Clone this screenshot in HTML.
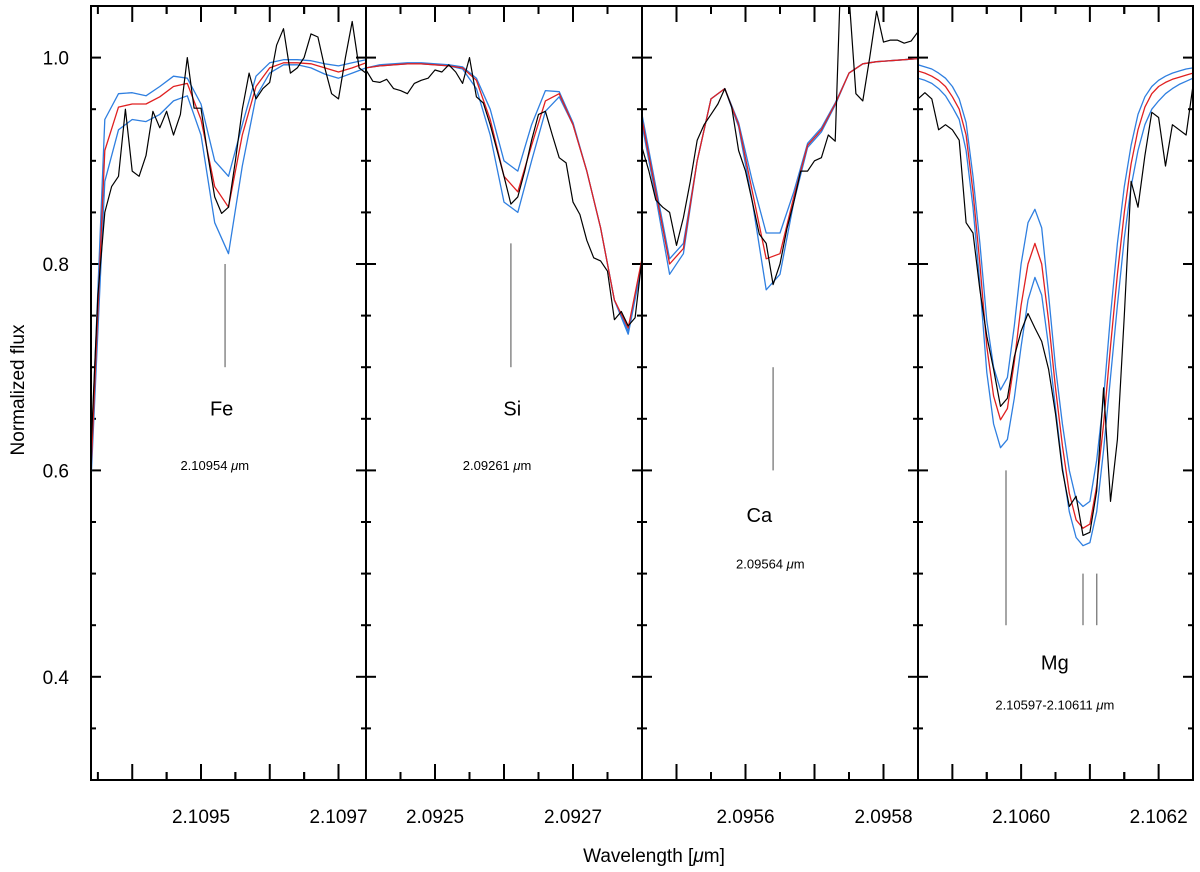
<!DOCTYPE html>
<html><head><meta charset="utf-8">
<style>
html,body{margin:0;padding:0;background:#fff;}
svg{display:block;font-family:"Liberation Sans",Arial,sans-serif;}
</style></head>
<body>
<svg id="chart" width="1200" height="872" viewBox="0 0 1200 872" xmlns="http://www.w3.org/2000/svg">
<defs></defs>
<g id="ticks"></g>
<g id="marks"></g>
<g id="frames"></g>
<g id="labels"></g>
<text x="24" y="390" font-size="19" text-anchor="middle" transform="rotate(-90 24 390)">Normalized flux</text>
<text x="654" y="862" font-size="19" text-anchor="middle">Wavelength [<tspan font-style="italic">μ</tspan>m]</text>
</svg>
<script>
// ---- data ----
const yTickValues = [0.4, 0.6, 0.8, 1.0];
const yTickLabels = ["0.4", "0.6", "0.8", "1.0"];
const panelStarts = [2.10934, 2.0924, 2.09545, 2.10585];
const panelEnds = [2.10974, 2.0928, 2.09585, 2.10625];
const panelMajorTicks = [
  [2.1094, 2.1095, 2.1096, 2.1097],
  [2.0925, 2.0926, 2.0927],
  [2.0955, 2.0956, 2.0957, 2.0958],
  [2.1059, 2.1060, 2.1061, 2.1062]
];
const panelTickLabels = [
  ["2.1095", "2.1097"], ["2.0925", "2.0927"], ["2.0956", "2.0958"], ["2.1060", "2.1062"]
];
const panelModelSteps = [2e-5, 2e-5, 2e-5, 1e-5];
const blackStep = 1e-5;

const p1Black = [0.62,0.77,0.85,0.875,0.885,0.95,0.89,0.885,0.905,0.948,0.932,0.948,0.925,0.945,1.0,0.951,0.951,0.905,0.865,0.849,0.855,0.9,0.95,0.985,0.96,0.97,0.976,1.012,1.028,0.985,0.99,1.0,1.023,1.02,0.99,0.965,0.96,1.0,1.035,0.99,0.985];
const p1Red = [0.60,0.91,0.952,0.955,0.955,0.962,0.972,0.975,0.94,0.875,0.855,0.925,0.972,0.99,0.995,0.995,0.994,0.99,0.986,0.99,0.995];
const p1BlueHi = [0.61,0.94,0.965,0.966,0.963,0.972,0.982,0.98,0.955,0.9,0.885,0.935,0.982,0.995,0.998,0.998,0.997,0.994,0.992,0.995,0.998];
const p1BlueLo = [0.59,0.88,0.93,0.94,0.938,0.945,0.958,0.963,0.925,0.84,0.81,0.895,0.962,0.985,0.993,0.993,0.99,0.984,0.98,0.985,0.99];

const p2Black = [0.988,0.977,0.976,0.979,0.97,0.968,0.965,0.975,0.978,0.98,0.988,0.986,0.993,0.986,0.975,1.0,0.962,0.956,0.935,0.91,0.885,0.858,0.865,0.89,0.92,0.945,0.948,0.925,0.903,0.898,0.86,0.848,0.823,0.806,0.803,0.793,0.746,0.754,0.74,0.748,0.805];
const p2Red = [0.99,0.992,0.993,0.994,0.994,0.993,0.992,0.99,0.978,0.94,0.885,0.87,0.915,0.958,0.965,0.935,0.89,0.835,0.765,0.738,0.805];
const p2BlueHi = [0.99,0.993,0.994,0.995,0.995,0.994,0.993,0.991,0.98,0.95,0.9,0.89,0.935,0.968,0.967,0.937,0.89,0.835,0.765,0.735,0.80];
const p2BlueLo = [0.99,0.992,0.993,0.994,0.994,0.993,0.992,0.989,0.97,0.925,0.86,0.85,0.9,0.948,0.962,0.935,0.89,0.835,0.765,0.732,0.8];

const p3Black = [0.913,0.89,0.862,0.855,0.85,0.818,0.845,0.88,0.92,0.935,0.945,0.955,0.97,0.952,0.91,0.89,0.86,0.829,0.82,0.78,0.8,0.834,0.86,0.89,0.89,0.9,0.903,0.925,0.919,1.12,1.06,0.965,0.958,1.0,1.045,1.015,1.017,1.017,1.014,1.016,1.025];
const p3Red = [0.94,0.87,0.80,0.815,0.9,0.96,0.97,0.935,0.87,0.805,0.81,0.865,0.915,0.93,0.955,0.985,0.994,0.996,0.997,0.998,0.999];
const p3BlueHi = [0.945,0.875,0.805,0.82,0.9,0.96,0.97,0.937,0.88,0.83,0.83,0.87,0.917,0.932,0.956,0.985,0.994,0.996,0.997,0.998,0.999];
const p3BlueLo = [0.935,0.865,0.79,0.81,0.9,0.96,0.97,0.933,0.86,0.775,0.79,0.86,0.913,0.928,0.954,0.985,0.994,0.996,0.997,0.998,0.999];

const p4Black = [0.96,0.966,0.96,0.93,0.935,0.93,0.92,0.84,0.83,0.775,0.73,0.698,0.662,0.67,0.71,0.735,0.752,0.738,0.725,0.698,0.655,0.6,0.565,0.575,0.537,0.54,0.58,0.68,0.57,0.63,0.75,0.88,0.855,0.905,0.947,0.942,0.895,0.935,0.93,0.925,0.973];
const p4Red = [0.987,0.985,0.982,0.978,0.972,0.962,0.95,0.925,0.87,0.8,0.72,0.672,0.649,0.66,0.705,0.76,0.8,0.82,0.8,0.745,0.68,0.624,0.578,0.552,0.544,0.548,0.585,0.645,0.72,0.79,0.85,0.897,0.93,0.952,0.965,0.972,0.976,0.979,0.981,0.983,0.985];
const p4BlueHi = [0.993,0.991,0.989,0.985,0.98,0.972,0.96,0.937,0.885,0.82,0.745,0.7,0.678,0.69,0.74,0.8,0.84,0.853,0.835,0.77,0.7,0.645,0.6,0.572,0.565,0.57,0.61,0.67,0.75,0.82,0.875,0.915,0.945,0.962,0.972,0.978,0.982,0.985,0.987,0.989,0.99];
const p4BlueLo = [0.98,0.978,0.975,0.97,0.963,0.952,0.94,0.91,0.855,0.78,0.695,0.645,0.622,0.63,0.67,0.72,0.765,0.787,0.77,0.72,0.66,0.603,0.56,0.535,0.527,0.53,0.56,0.62,0.69,0.76,0.825,0.875,0.91,0.935,0.95,0.958,0.965,0.97,0.974,0.977,0.98];

const lineNames = ["Fe", "Si", "Ca", "Mg"];
const lineLabels = ["2.10954", "2.09261", "2.09564", "2.10597-2.10611"];
const markerWl = [[2.109535], [2.09261], [2.09564], [2.105978, 2.10609, 2.10611]];
const markerTop = [[0.80], [0.82], [0.70], [0.60, 0.50, 0.50]];
const markerBottom = [[0.70], [0.70], [0.60], [0.45, 0.45, 0.45]];
const nameFlux = [0.66, 0.66, 0.557, 0.414];
const wlFlux = [0.605, 0.605, 0.51, 0.373];
const nameWl = [2.10953, 2.092612, 2.09562, 2.106049];
const wlLabelWl = [2.10952, 2.09259, 2.095636, 2.106049];

// ---- layout ----
const panelX = [91, 366, 642, 918, 1193];
const plotTop = 6, plotBottom = 780;
const yMin = 0.30, yMax = 1.05;
const NS = "http://www.w3.org/2000/svg";
function yScale(v){ return plotBottom - (v - yMin) / (yMax - yMin) * (plotBottom - plotTop); }
function xScale(p, wl){ return panelX[p] + (wl - panelStarts[p]) / (panelEnds[p] - panelStarts[p]) * (panelX[p+1] - panelX[p]); }
function mk(tag, parent){ const e = document.createElementNS(NS, tag); parent.appendChild(e); return e; }

const ticksG = document.getElementById('ticks');
const marksG = document.getElementById('marks');
const framesG = document.getElementById('frames');
const labelsG = document.getElementById('labels');
const defs = document.querySelector('defs');

const series = [
  [p1Black, p1Red, p1BlueHi, p1BlueLo],
  [p2Black, p2Red, p2BlueHi, p2BlueLo],
  [p3Black, p3Red, p3BlueHi, p3BlueLo],
  [p4Black, p4Red, p4BlueHi, p4BlueLo]
];
const seriesNames = ["observed-spectrum", "model-best-fit", "model-upper", "model-lower"];
const seriesColors = ["#000000", "#e02020", "#2f7fe0", "#2f7fe0"];

for (let p = 0; p < 4; p++) {
  const cp = mk('clipPath', defs);
  cp.setAttribute('id', 'clip' + p);
  const cr = mk('rect', cp);
  cr.setAttribute('x', panelX[p]); cr.setAttribute('y', plotTop);
  cr.setAttribute('width', panelX[p+1] - panelX[p]); cr.setAttribute('height', plotBottom - plotTop);

  const pg = mk('g', marksG);
  pg.setAttribute('clip-path', 'url(#clip' + p + ')');
  
  

  [2, 3, 1, 0].forEach(s => {
    const arr = series[p][s];
    const step = s === 0 ? blackStep : panelModelSteps[p];
    const pts = arr.map((v, i) => xScale(p, panelStarts[p] + i * step).toFixed(1) + ',' + yScale(v).toFixed(1)).join(' ');
    const pl = mk('polyline', pg);
    pl.setAttribute('points', pts);
    pl.setAttribute('fill', 'none');
    pl.setAttribute('stroke', seriesColors[s]);
    pl.setAttribute('stroke-width', s === 0 ? '1.2' : '1.3');
    pl.setAttribute('stroke-linejoin', 'round');
    
    
  });

  markerWl[p].forEach((wl, k) => {
    const ln = mk('line', pg);
    const x = xScale(p, wl);
    ln.setAttribute('x1', x); ln.setAttribute('x2', x);
    ln.setAttribute('y1', yScale(markerTop[p][k])); ln.setAttribute('y2', yScale(markerBottom[p][k]));
    ln.setAttribute('stroke', '#777'); ln.setAttribute('stroke-width', '1.3');
    
    
  });

  const t1 = mk('text', labelsG);
  t1.setAttribute('x', xScale(p, nameWl[p])); t1.setAttribute('y', yScale(nameFlux[p]) + 7);
  t1.setAttribute('font-size', '20'); t1.setAttribute('text-anchor', 'middle');
  t1.textContent = lineNames[p];
  
  
  const t2 = mk('text', labelsG);
  t2.setAttribute('x', xScale(p, wlLabelWl[p])); t2.setAttribute('y', yScale(wlFlux[p]) + 5);
  t2.setAttribute('font-size', '13'); t2.setAttribute('text-anchor', 'middle');
  t2.textContent = lineLabels[p] + ' ';
  const mu = mk('tspan', t2); mu.setAttribute('font-style', 'italic'); mu.textContent = 'μ';
  const mm = mk('tspan', t2); mm.textContent = 'm';
  
  

  const majors = panelMajorTicks[p];
  const half = 0.00005;
  const allTicks = [];
  majors.forEach(m => { allTicks.push([m, true]); allTicks.push([m - half, false]); allTicks.push([m + half, false]); });
  allTicks.forEach(([wl, major]) => {
    if (wl <= panelStarts[p] + 1e-7 || wl >= panelEnds[p] - 1e-7) return;
    const x = xScale(p, wl);
    const len = major ? 16 : 8;
    [[plotBottom, plotBottom - len], [plotTop, plotTop + len]].forEach(([a, b]) => {
      const tl = mk('line', ticksG);
      tl.setAttribute('x1', x); tl.setAttribute('x2', x);
      tl.setAttribute('y1', a); tl.setAttribute('y2', b);
      tl.setAttribute('stroke', '#000'); tl.setAttribute('stroke-width', '2');
      
      
    });
  });
  panelTickLabels[p].forEach(lbl => {
    const tx = mk('text', labelsG);
    tx.setAttribute('x', xScale(p, parseFloat(lbl)));
    tx.setAttribute('y', 823);
    tx.setAttribute('font-size', '19'); tx.setAttribute('text-anchor', 'middle');
    tx.textContent = lbl;
    
    
  });

  for (let v = 0.30; v <= 1.0501; v += 0.05) {
    const vv = Math.round(v * 100) / 100;
    const major = Math.abs((vv * 10) % 2) < 1e-6 || Math.abs((vv * 10) % 2 - 2) < 1e-6;
    const len = major ? 10 : 5;
    const y = yScale(vv);
    [[panelX[p], panelX[p] + len], [panelX[p+1], panelX[p+1] - len]].forEach(([a, b]) => {
      const tl = mk('line', ticksG);
      tl.setAttribute('x1', a); tl.setAttribute('x2', b);
      tl.setAttribute('y1', y); tl.setAttribute('y2', y);
      tl.setAttribute('stroke', '#000'); tl.setAttribute('stroke-width', '2');
      
      
    });
  }

  const fr = mk('rect', framesG);
  fr.setAttribute('x', panelX[p]); fr.setAttribute('y', plotTop);
  fr.setAttribute('width', panelX[p+1] - panelX[p]); fr.setAttribute('height', plotBottom - plotTop);
  fr.setAttribute('fill', 'none'); fr.setAttribute('stroke', '#000'); fr.setAttribute('stroke-width', '2');
  
  
}

yTickValues.forEach((v, i) => {
  const t = mk('text', labelsG);
  t.setAttribute('x', 69); t.setAttribute('y', yScale(v) + 7);
  t.setAttribute('font-size', '19'); t.setAttribute('text-anchor', 'end');
  t.textContent = yTickLabels[i];
  
  
});
</script>
</body></html>
